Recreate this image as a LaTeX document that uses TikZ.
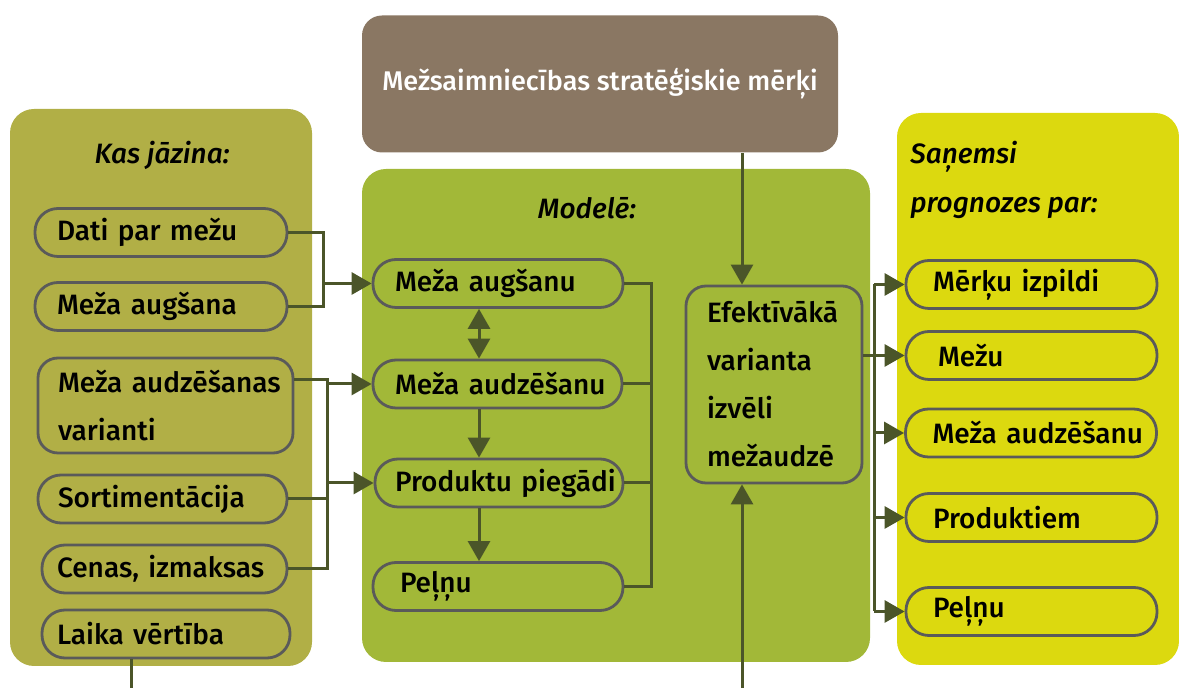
\documentclass[tikz,border=0pt]{standalone}
\usepackage{fontspec}
\setmainfont{Fira Sans}[UprightFont=* Medium, ItalicFont=* Medium Italic]
\usetikzlibrary{arrows.meta}
\definecolor{brownbox}{HTML}{8A7763}
\definecolor{leftpanel}{HTML}{B1AF46}
\definecolor{midpanel}{HTML}{A2B838}
\definecolor{rightpanel}{HTML}{DCD90F}
\definecolor{edgegray}{HTML}{5A5A5A}
\definecolor{linecol}{HTML}{4B5529}
\tikzset{
  pill/.style={draw=edgegray, line width=1.4pt, rounded corners=11.5pt, align=left,
    inner ysep=0pt, minimum height=24pt, font=\fontsize{14}{24}\selectfont, text=black,
    execute at begin node={\hyphenpenalty=10000\exhyphenpenalty=10000\relax}},
  roundbox/.style={pill, rounded corners=10pt},
  conn/.style={draw=linecol, line width=1.5pt},
  arr/.style={conn, -{Triangle[length=10pt,width=11pt]}},
  dblarr/.style={conn, {Triangle[length=10pt,width=11pt]}-{Triangle[length=10pt,width=11pt]}},
  heading/.style={font=\fontsize{14}{24.5}\selectfont\itshape, align=left, inner sep=0pt, text=black},
  panel/.style={rounded corners=12pt}
}
\begin{document}
\begin{tikzpicture}[x=0.5pt,y=-0.5pt]
\useasboundingbox (0,0) rectangle (1179,688);
% panels
\fill[panel, leftpanel] (10,109) rectangle (312,666);
\fill[panel, midpanel] (362,169) rectangle (870,662);
\fill[panel, rightpanel] (897,113) rectangle (1179,665);
% top goal
\node[fill=brownbox, rounded corners=10pt, minimum width=238pt, minimum height=68.5pt,
  text=white, font=\fontsize{13.5}{17}\selectfont] (goal) at (600,84) {Mežsaimniecības stratēģiskie mērķi};
% headings
\node[heading] (hleft) at (162,155) {Kas jāzina:};
\node[heading] (hmid) at (587,208) {Modelē:};
\node[heading, anchor=west] (hright) at (910,180) {Saņemsi\\prognozes par:};
% left nodes
\node[pill, text width=104pt, inner xsep=11pt] (dati) at (161,232.5) {Dati~par~mežu};
\node[pill, text width=104pt, inner xsep=11pt] (augsana) at (161,306.5) {Meža~augšana};
\node[roundbox, text width=107.5pt, inner xsep=10pt, minimum height=47.5pt] (varianti) at (165.5,405.5) {Meža~audzēšanas\\varianti};
\node[pill, text width=104.5pt, inner xsep=10pt] (sortim) at (162.5,499) {Sortimentācija};
\node[pill, text width=107.5pt, inner xsep=7.5pt] (cenas) at (164.5,569) {Cenas,~izmaksas};
\node[pill, text width=109pt, inner xsep=7.5pt] (laika) at (166,634) {Laika~vērtība};
% middle nodes
\node[pill, text width=103pt, inner xsep=11pt] (m1) at (498,283.5) {Meža~augšanu};
\node[pill, text width=102.5pt, inner xsep=11pt] (m2) at (497.5,384) {Meža~audzēšanu};
\node[pill, text width=104pt, inner xsep=10pt] (m3) at (499,483) {Produktu~piegādi};
\node[pill, text width=98pt, inner xsep=13.5pt] (m4) at (498,586.5) {Peļņu};
% efficient choice
\node[roundbox, text width=67pt, inner xsep=10.5pt, minimum height=98.5pt] (eff) at (774,384.5) {Efektīvākā\\varianta\\izvēli\\mežaudzē};
% right nodes
\node[pill, text width=98.5pt, inner xsep=13.5pt] (r1) at (1031.5,284.5) {Mērķu~izpildi};
\node[pill, text width=93.5pt, inner xsep=16pt] (r2) at (1031.5,355.5) {Mežu};
\node[pill, text width=98.5pt, inner xsep=13.5pt] (r3) at (1031,433) {Meža~audzēšanu};
\node[pill, text width=98.5pt, inner xsep=13.5pt] (r4) at (1031.5,517.5) {Produktiem};
\node[pill, text width=98.5pt, inner xsep=13.5pt] (r5) at (1031.5,611.5) {Peļņu};
% junction coordinates
\coordinate (j1) at (323,283.5);
\coordinate (j2) at (327,379.5);
\coordinate (j2b) at (327,569);
\coordinate (vx) at (479,0);
\coordinate (bt) at (651,283.5);
\coordinate (bb) at (651,586.5);
\coordinate (rb) at (874,0);
\coordinate (ax) at (742,688);
\coordinate (lx) at (131,688);
% left connectors
\draw[conn] (dati.east) -| (j1) |- (augsana.east);
\draw[arr] (j1) -- (m1.west);
\draw[conn] ([yshift=13pt]varianti.east) -- (j2) -- (j2b) -- (cenas.east);
\draw[conn] (sortim.east) -- (sortim.east -| j2);
\draw[arr] (m2.west -| j2) -- (m2.west);
\draw[arr] (m3.west -| j2) -- (m3.west);
\draw[conn] (laika.south -| lx) -- (lx);
% middle connectors
\draw[dblarr] (m1.south -| vx) -- (m2.north -| vx);
\draw[arr] (m2.south -| vx) -- (m3.north -| vx);
\draw[arr] (m3.south -| vx) -- (m4.north -| vx);
\draw[conn] (m1.east) -- (bt) -- (bb) -- (m4.east);
\draw[conn] (m2.east) -- (m2.east -| bt);
\draw[conn] (m3.east) -- (m3.east -| bt);
% to and from the efficient choice
\draw[arr] (goal.south -| ax) -- (eff.north -| ax);
\draw[arr] (ax) -- (eff.south -| ax);
\draw[arr] (eff.east |- r2.west) -- (r2.west);
\draw[conn] (r1.west -| rb) -- (r5.west -| rb);
\foreach \n in {r1,r3,r4,r5} \draw[arr] (\n.west -| rb) -- (\n.west);
\end{tikzpicture}
\end{document}
